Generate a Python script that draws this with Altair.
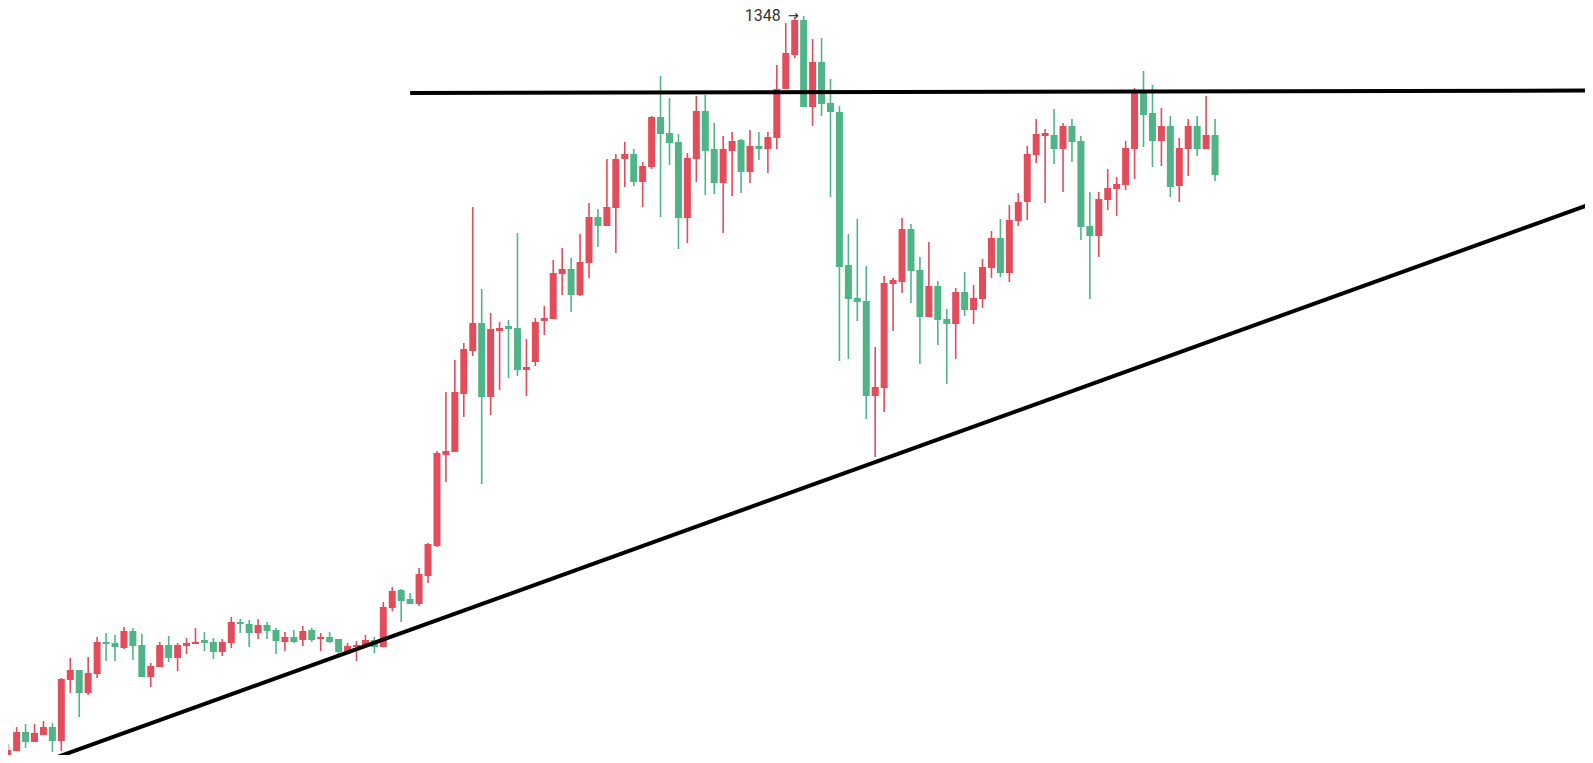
import altair as alt
import pandas as pd

# candle index (trading days) and OHLC prices
opens = [607, 613, 632, 622, 629, 637, 623, 684, 694, 671,
         690, 722, 721, 716, 733, 719, 687, 697, 719, 706,
         718, 720, 724, 722, 712, 721, 742, 740, 731, 739,
         734, 722, 727, 724, 734, 725, 727, 725, 712, 717,
         718, 724, 717, 756, 774, 765, 760, 788, 818, 909,
         912, 970, 1013, 1041, 967, 1033, 1038, 1036, 994, 1002,
         1043, 1045, 1090, 1095, 1069, 1101, 1147, 1138, 1156, 1205,
         1210, 1182, 1197, 1247, 1231, 1222, 1146, 1205, 1253, 1215,
         1181, 1213, 1224, 1192, 1218, 1215, 1226, 1275, 1309, 1344,
         1257, 1302, 1261, 1252, 1099, 1066, 1063, 968, 976, 1080,
         1082, 1135, 1094, 1047, 1078, 1045, 1040, 1072, 1054, 1065,
         1096, 1126, 1091, 1143, 1162, 1209, 1228, 1229, 1215, 1238,
         1223, 1138, 1128, 1164, 1175, 1179, 1215, 1272, 1251, 1223,
         1238, 1178, 1215, 1238, 1215, 1229]
highs = [620, 637, 640, 640, 643, 641, 686, 706, 694, 707,
         727, 731, 729, 737, 736, 730, 701, 722, 728, 721,
         726, 736, 732, 726, 725, 747, 745, 744, 745, 742,
         736, 732, 734, 738, 736, 731, 732, 725, 721, 723,
         729, 727, 762, 777, 775, 771, 796, 821, 913, 972,
         1004, 1021, 1157, 1075, 1051, 1042, 1044, 1131, 1025, 1046,
         1058, 1104, 1116, 1106, 1130, 1161, 1155, 1205, 1210, 1222,
         1215, 1202, 1248, 1288, 1266, 1230, 1211, 1268, 1269, 1241,
         1228, 1232, 1225, 1234, 1232, 1232, 1299, 1341, 1347, 1348,
         1325, 1326, 1285, 1258, 1130, 1145, 1098, 1017, 1088, 1086,
         1146, 1140, 1107, 1122, 1083, 1055, 1076, 1092, 1079, 1105,
         1133, 1145, 1159, 1171, 1218, 1245, 1235, 1255, 1241, 1245,
         1228, 1172, 1172, 1195, 1187, 1223, 1276, 1293, 1279, 1256,
         1248, 1226, 1245, 1248, 1268, 1245]
lows = [604, 613, 616, 622, 629, 612, 613, 671, 647, 669,
        686, 703, 703, 715, 704, 687, 677, 697, 702, 693,
        710, 720, 713, 705, 708, 716, 731, 717, 725, 725,
        710, 713, 721, 718, 722, 713, 721, 707, 712, 703,
        718, 711, 717, 753, 742, 760, 758, 781, 817, 882,
        912, 947, 1008, 880, 949, 974, 986, 988, 968, 998,
        1029, 1045, 1069, 1052, 1068, 1086, 1117, 1138, 1111, 1177,
        1178, 1157, 1195, 1147, 1199, 1115, 1121, 1182, 1169, 1170,
        1131, 1168, 1171, 1181, 1204, 1191, 1215, 1275, 1306, 1257,
        1238, 1248, 1167, 1003, 1005, 1043, 945, 907, 952, 1033,
        1071, 1061, 1000, 1047, 1019, 980, 1005, 1048, 1040, 1056,
        1086, 1087, 1082, 1138, 1144, 1201, 1161, 1200, 1172, 1202,
        1124, 1065, 1107, 1154, 1148, 1174, 1185, 1217, 1197, 1198,
        1167, 1162, 1188, 1208, 1215, 1183]
closes = [614, 632, 622, 631, 637, 623, 685, 694, 671, 691,
          722, 720, 717, 733, 718, 687, 698, 719, 706, 719,
          721, 722, 721, 712, 722, 742, 740, 731, 739, 733,
          723, 727, 722, 733, 724, 727, 722, 712, 718, 719,
          724, 717, 757, 773, 763, 760, 790, 820, 911, 913,
          972, 1015, 1041, 967, 1035, 1036, 1035, 994, 997, 1042,
          1046, 1091, 1095, 1069, 1102, 1147, 1138, 1157, 1205, 1210,
          1182, 1198, 1247, 1230, 1221, 1146, 1206, 1253, 1213, 1181,
          1215, 1223, 1192, 1218, 1215, 1227, 1275, 1311, 1344, 1257,
          1302, 1260, 1252, 1097, 1065, 1062, 968, 977, 1081, 1084,
          1135, 1093, 1047, 1078, 1044, 1040, 1072, 1054, 1066, 1097,
          1126, 1091, 1144, 1162, 1210, 1230, 1231, 1215, 1238, 1222,
          1137, 1128, 1165, 1176, 1180, 1216, 1274, 1249, 1223, 1238,
          1177, 1216, 1238, 1215, 1229, 1189]

# trend lines (index, price)
resist_x = [45.0, 176.7]
resist_y = [1271, 1273.5]
support_x = [2.0, 176.7]
support_y = [595.5, 1159]

peak_value_text = "1348"
peak_arrow_text = "→"

UP = "#e24c5b"
DOWN = "#4fb586"

n = len(opens)
df = pd.DataFrame({
    "i": list(range(n)),
    "open": opens, "high": highs, "low": lows, "close": closes,
})
df["dir"] = ["up" if c > o else "down" for o, c in zip(opens, closes)]

lines = pd.DataFrame({
    "x": resist_x + support_x,
    "y": resist_y + support_y,
    "name": ["resist"] * 2 + ["support"] * 2,
})

xs = alt.Scale(domain=[-0.3, 176.7], nice=False, zero=False)
ys = alt.Scale(domain=[601, 1364], nice=False, zero=False)
color = alt.Color("dir:N", scale=alt.Scale(domain=["up", "down"], range=[UP, DOWN]), legend=None)

base = alt.Chart(df).encode(x=alt.X("i:Q", scale=xs, axis=None))

wicks = base.mark_rule(strokeWidth=1.6).encode(
    y=alt.Y("high:Q", scale=ys, axis=None), y2="low:Q", color=color)
bodies = base.mark_bar(width=7, cornerRadius=0).encode(
    y=alt.Y("open:Q", scale=ys, axis=None), y2="close:Q", color=color)

trend = alt.Chart(lines).mark_line(color="black", strokeWidth=4).encode(
    x=alt.X("x:Q", scale=xs, axis=None),
    y=alt.Y("y:Q", scale=ys, axis=None),
    detail="name:N")

peak = df.loc[df["high"].idxmax()]
label_df = pd.DataFrame({"i": [int(peak["i"])], "high": [float(peak["high"])],
                         "t": [peak_value_text], "a": [peak_arrow_text]})
label_base = alt.Chart(label_df).encode(
    x=alt.X("i:Q", scale=xs, axis=None),
    y=alt.Y("high:Q", scale=ys, axis=None))
label = label_base.mark_text(
    align="right", baseline="alphabetic", dx=-23, dy=5,
    font="Roboto", fontSize=16, color="#333333").encode(text="t:N")
arrow = label_base.mark_text(
    align="right", baseline="alphabetic", dx=-5, dy=4,
    font="DejaVu Sans", fontSize=13, color="#222222").encode(text="a:N")

chart = alt.layer(wicks, bodies, trend, label, arrow).properties(
    width=1593, height=763,
    autosize=alt.AutoSizeParams(type="none"),
    padding={"left": -8, "top": -8, "right": -8, "bottom": -8},
    background="white",
).configure_view(stroke=None)

chart.save("out.html", embed_options={"renderer": "svg", "actions": False})
